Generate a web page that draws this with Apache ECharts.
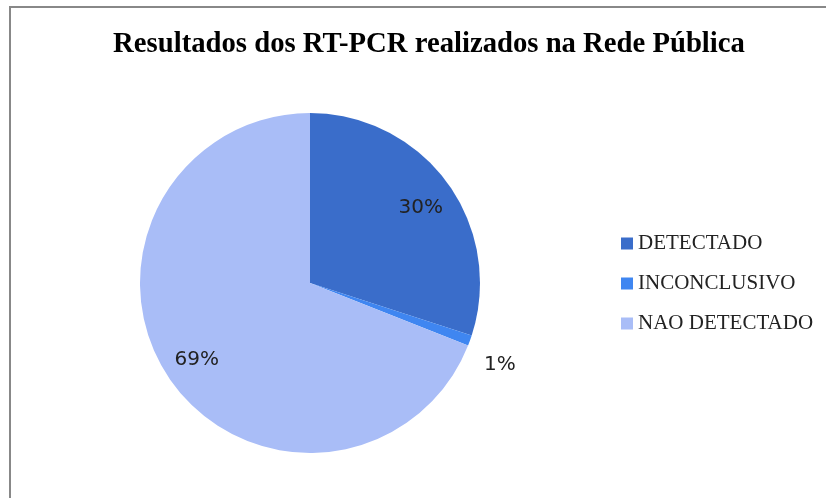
<!DOCTYPE html>
<html>
<head>
<meta charset="utf-8">
<script src="https://cdn.jsdelivr.net/npm/echarts@6/dist/echarts.min.js"></script>
<style>
    html, body { margin: 0; padding: 0; background: #fff; }
    #chart { width: 826px; height: 498px; }
</style>
</head>
<body>
<div id="chart"></div>
<script>
const titleText = 'Resultados dos RT-PCR realizados na Rede Pública';
const categories = ['DETECTADO', 'INCONCLUSIVO', 'NAO DETECTADO'];
const values = [30, 1, 69];
const colors = ['#3a6dca', '#3f86f1', '#a9bdf7'];

const center = [310, 283];
const radius = 170;

const chart = echarts.init(document.getElementById('chart'));

const pieData = categories.map((name, i) => ({
    name,
    value: values[i],
    itemStyle: { color: colors[i] }
}));

// transparent ring, only there to put the labels further out than half radius
const labelData = categories.map((name, i) => {
    const small = values[i] < 5;
    return {
        name,
        value: values[i],
        label: small ? { position: 'outside', offset: [-10, 19] } : { position: 'inside', offset: [0, i === 0 ? 5 : 0] },
        labelLine: { show: false, length: 14, length2: 6 }
    };
});

chart.setOption({
    animation: false,
    title: {
        text: titleText,
        left: 424,
        textAlign: 'center',
        top: 25,
        textStyle: {
            fontFamily: 'Liberation Serif',
            fontWeight: 'bold',
            fontSize: 28.7,
            color: '#000'
        }
    },
    legend: {
        orient: 'vertical',
        left: 621,
        top: 233,
        padding: 0,
        itemWidth: 12,
        itemHeight: 12,
        itemGap: 19,
        icon: 'rect',
        data: categories,
        textStyle: {
            fontFamily: 'Liberation Serif',
            fontSize: 21,
            color: '#222'
        }
    },
    graphic: [{
        type: 'rect',
        shape: { x: 10, y: 7, width: 900, height: 600 },
        style: { fill: 'none', stroke: '#888', lineWidth: 2 },
        z: -10,
        silent: true
    }],
    series: [{
        type: 'pie',
        center,
        radius: [0, radius],
        startAngle: 90,
        clockwise: true,
        data: pieData,
        label: { show: false },
        labelLine: { show: false },
        emphasis: { disabled: true }
    }, {
        type: 'pie',
        center,
        radius: [98, radius],
        startAngle: 90,
        clockwise: true,
        silent: true,
        legendHoverLink: false,
        data: labelData,
        itemStyle: { color: 'transparent' },
        label: {
            show: true,
            formatter: '{d}%',
            fontFamily: 'DejaVu Sans',
            fontSize: 20,
            color: '#222'
        },
        emphasis: { disabled: true }
    }]
});
</script>
</body>
</html>
